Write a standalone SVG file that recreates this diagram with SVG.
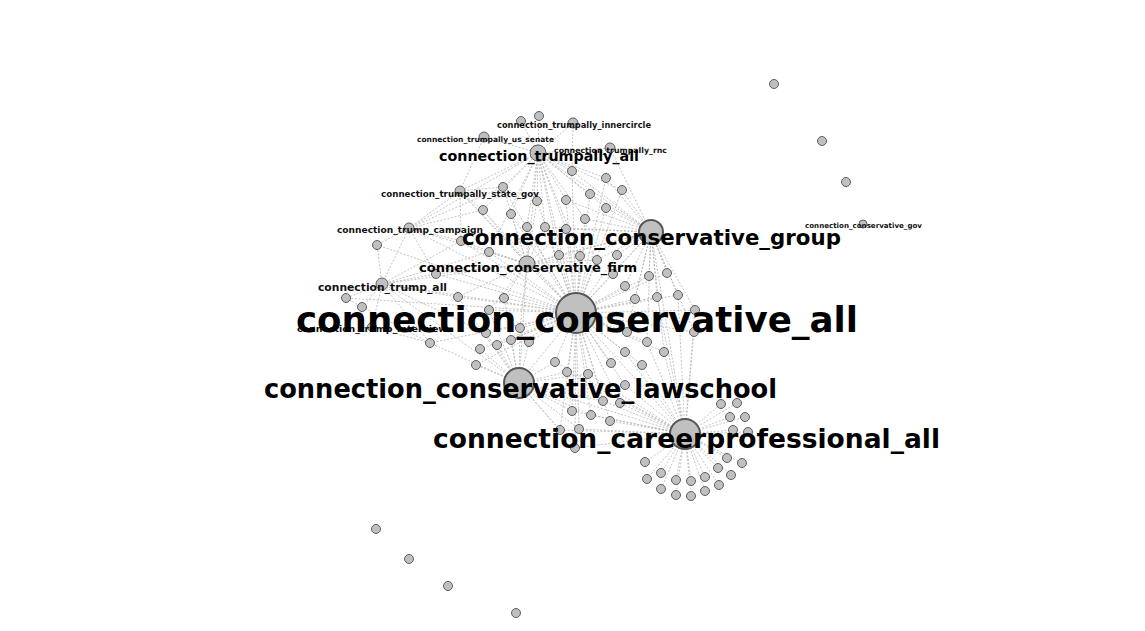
<svg xmlns="http://www.w3.org/2000/svg" width="1145" height="631" viewBox="0 0 1145 631">
<style>
.e{stroke:#b4b4b4;stroke-width:0.8;stroke-dasharray:2 1.6;fill:none}
.n{fill:#c0c0c0;stroke:#5e5e5e;stroke-width:1}
.h{fill:#c0c0c0;stroke:#555;stroke-width:2}
.t{font-family:"DejaVu Sans",sans-serif;font-weight:bold;fill:#000;text-anchor:middle}
.s{font-family:"DejaVu Sans",sans-serif;font-weight:bold;fill:#111;text-anchor:middle}
</style>
<rect width="1145" height="631" fill="#fff"/>
<g id="connectors">
<!-- conservative_all -->
<line class="e" x1="576" y1="313" x2="538" y2="153"/><line class="e" x1="576" y1="313" x2="651" y2="232"/><line class="e" x1="576" y1="313" x2="527" y2="264"/><line class="e" x1="576" y1="313" x2="519" y2="383"/><line class="e" x1="576" y1="313" x2="685" y2="434"/><line class="e" x1="576" y1="313" x2="382" y2="284"/><line class="e" x1="576" y1="313" x2="409" y2="228"/><line class="e" x1="576" y1="313" x2="460" y2="191"/>
<line class="e" x1="576" y1="313" x2="572" y2="171"/><line class="e" x1="576" y1="313" x2="606" y2="178"/><line class="e" x1="576" y1="313" x2="622" y2="190"/><line class="e" x1="576" y1="313" x2="590" y2="194"/><line class="e" x1="576" y1="313" x2="566" y2="200"/><line class="e" x1="576" y1="313" x2="537" y2="201"/><line class="e" x1="576" y1="313" x2="503" y2="187"/><line class="e" x1="576" y1="313" x2="483" y2="210"/><line class="e" x1="576" y1="313" x2="511" y2="214"/><line class="e" x1="576" y1="313" x2="606" y2="208"/><line class="e" x1="576" y1="313" x2="585" y2="219"/><line class="e" x1="576" y1="313" x2="377" y2="245"/><line class="e" x1="576" y1="313" x2="527" y2="227"/><line class="e" x1="576" y1="313" x2="545" y2="227"/><line class="e" x1="576" y1="313" x2="566" y2="229"/><line class="e" x1="576" y1="313" x2="489" y2="252"/><line class="e" x1="576" y1="313" x2="461" y2="241"/><line class="e" x1="576" y1="313" x2="559" y2="255"/><line class="e" x1="576" y1="313" x2="580" y2="256"/><line class="e" x1="576" y1="313" x2="597" y2="260"/><line class="e" x1="576" y1="313" x2="617" y2="255"/><line class="e" x1="576" y1="313" x2="649" y2="276"/><line class="e" x1="576" y1="313" x2="667" y2="273"/><line class="e" x1="576" y1="313" x2="436" y2="274"/><line class="e" x1="576" y1="313" x2="613" y2="274"/><line class="e" x1="576" y1="313" x2="625" y2="286"/><line class="e" x1="576" y1="313" x2="458" y2="297"/><line class="e" x1="576" y1="313" x2="504" y2="298"/><line class="e" x1="576" y1="313" x2="635" y2="299"/><line class="e" x1="576" y1="313" x2="657" y2="297"/><line class="e" x1="576" y1="313" x2="678" y2="295"/><line class="e" x1="576" y1="313" x2="695" y2="310"/><line class="e" x1="576" y1="313" x2="346" y2="298"/><line class="e" x1="576" y1="313" x2="489" y2="310"/><line class="e" x1="576" y1="313" x2="486" y2="333"/><line class="e" x1="576" y1="313" x2="430" y2="343"/><line class="e" x1="576" y1="313" x2="480" y2="349"/><line class="e" x1="576" y1="313" x2="497" y2="345"/><line class="e" x1="576" y1="313" x2="520" y2="328"/><line class="e" x1="576" y1="313" x2="511" y2="340"/><line class="e" x1="576" y1="313" x2="529" y2="342"/><line class="e" x1="576" y1="313" x2="476" y2="365"/><line class="e" x1="576" y1="313" x2="555" y2="362"/><line class="e" x1="576" y1="313" x2="567" y2="372"/><line class="e" x1="576" y1="313" x2="627" y2="332"/><line class="e" x1="576" y1="313" x2="647" y2="342"/><line class="e" x1="576" y1="313" x2="625" y2="352"/><line class="e" x1="576" y1="313" x2="664" y2="352"/><line class="e" x1="576" y1="313" x2="611" y2="363"/><line class="e" x1="576" y1="313" x2="642" y2="365"/><line class="e" x1="576" y1="313" x2="694" y2="332"/><line class="e" x1="576" y1="313" x2="588" y2="374"/><line class="e" x1="576" y1="313" x2="625" y2="385"/><line class="e" x1="576" y1="313" x2="603" y2="401"/><line class="e" x1="576" y1="313" x2="620" y2="403"/><line class="e" x1="576" y1="313" x2="572" y2="411"/><line class="e" x1="576" y1="313" x2="591" y2="415"/><line class="e" x1="576" y1="313" x2="610" y2="421"/><line class="e" x1="576" y1="313" x2="560" y2="430"/><line class="e" x1="576" y1="313" x2="579" y2="429"/><line class="e" x1="576" y1="313" x2="575" y2="448"/>
<!-- careerprofessional_all -->
<line class="e" x1="685" y1="434" x2="721" y2="404"/><line class="e" x1="685" y1="434" x2="737" y2="403"/><line class="e" x1="685" y1="434" x2="730" y2="417"/><line class="e" x1="685" y1="434" x2="745" y2="417"/><line class="e" x1="685" y1="434" x2="733" y2="430"/><line class="e" x1="685" y1="434" x2="748" y2="432"/><line class="e" x1="685" y1="434" x2="727" y2="458"/><line class="e" x1="685" y1="434" x2="742" y2="463"/><line class="e" x1="685" y1="434" x2="645" y2="462"/><line class="e" x1="685" y1="434" x2="661" y2="473"/><line class="e" x1="685" y1="434" x2="647" y2="479"/><line class="e" x1="685" y1="434" x2="676" y2="480"/><line class="e" x1="685" y1="434" x2="691" y2="481"/><line class="e" x1="685" y1="434" x2="705" y2="477"/><line class="e" x1="685" y1="434" x2="718" y2="468"/><line class="e" x1="685" y1="434" x2="731" y2="475"/><line class="e" x1="685" y1="434" x2="719" y2="485"/><line class="e" x1="685" y1="434" x2="705" y2="491"/><line class="e" x1="685" y1="434" x2="691" y2="496"/><line class="e" x1="685" y1="434" x2="676" y2="495"/><line class="e" x1="685" y1="434" x2="661" y2="489"/>
<line class="e" x1="685" y1="434" x2="519" y2="383"/><line class="e" x1="685" y1="434" x2="651" y2="232"/><line class="e" x1="685" y1="434" x2="695" y2="310"/><line class="e" x1="685" y1="434" x2="694" y2="332"/><line class="e" x1="685" y1="434" x2="664" y2="352"/><line class="e" x1="685" y1="434" x2="642" y2="365"/><line class="e" x1="685" y1="434" x2="625" y2="352"/><line class="e" x1="685" y1="434" x2="647" y2="342"/><line class="e" x1="685" y1="434" x2="588" y2="374"/><line class="e" x1="685" y1="434" x2="625" y2="385"/><line class="e" x1="685" y1="434" x2="603" y2="401"/><line class="e" x1="685" y1="434" x2="620" y2="403"/><line class="e" x1="685" y1="434" x2="572" y2="411"/><line class="e" x1="685" y1="434" x2="591" y2="415"/><line class="e" x1="685" y1="434" x2="610" y2="421"/><line class="e" x1="685" y1="434" x2="560" y2="430"/><line class="e" x1="685" y1="434" x2="579" y2="429"/><line class="e" x1="685" y1="434" x2="575" y2="448"/><line class="e" x1="685" y1="434" x2="555" y2="362"/><line class="e" x1="685" y1="434" x2="567" y2="372"/><line class="e" x1="685" y1="434" x2="678" y2="295"/><line class="e" x1="685" y1="434" x2="657" y2="297"/>
<!-- lawschool -->
<line class="e" x1="519" y1="383" x2="486" y2="333"/><line class="e" x1="519" y1="383" x2="480" y2="349"/><line class="e" x1="519" y1="383" x2="497" y2="345"/><line class="e" x1="519" y1="383" x2="520" y2="328"/><line class="e" x1="519" y1="383" x2="511" y2="340"/><line class="e" x1="519" y1="383" x2="529" y2="342"/><line class="e" x1="519" y1="383" x2="476" y2="365"/><line class="e" x1="519" y1="383" x2="555" y2="362"/><line class="e" x1="519" y1="383" x2="567" y2="372"/><line class="e" x1="519" y1="383" x2="588" y2="374"/><line class="e" x1="519" y1="383" x2="572" y2="411"/><line class="e" x1="519" y1="383" x2="560" y2="430"/><line class="e" x1="519" y1="383" x2="579" y2="429"/><line class="e" x1="519" y1="383" x2="575" y2="448"/><line class="e" x1="519" y1="383" x2="489" y2="310"/><line class="e" x1="519" y1="383" x2="504" y2="298"/><line class="e" x1="519" y1="383" x2="527" y2="264"/><line class="e" x1="519" y1="383" x2="430" y2="343"/><line class="e" x1="519" y1="383" x2="458" y2="297"/><line class="e" x1="519" y1="383" x2="382" y2="284"/><line class="e" x1="519" y1="383" x2="603" y2="401"/><line class="e" x1="519" y1="383" x2="591" y2="415"/>
<!-- trumpally_all -->
<line class="e" x1="538" y1="153" x2="521" y2="121"/><line class="e" x1="538" y1="153" x2="539" y2="116"/><line class="e" x1="538" y1="153" x2="573" y2="123"/><line class="e" x1="538" y1="153" x2="484" y2="137"/><line class="e" x1="538" y1="153" x2="610" y2="148"/><line class="e" x1="538" y1="153" x2="460" y2="191"/><line class="e" x1="538" y1="153" x2="572" y2="171"/><line class="e" x1="538" y1="153" x2="606" y2="178"/><line class="e" x1="538" y1="153" x2="622" y2="190"/><line class="e" x1="538" y1="153" x2="590" y2="194"/><line class="e" x1="538" y1="153" x2="566" y2="200"/><line class="e" x1="538" y1="153" x2="537" y2="201"/><line class="e" x1="538" y1="153" x2="503" y2="187"/><line class="e" x1="538" y1="153" x2="483" y2="210"/><line class="e" x1="538" y1="153" x2="511" y2="214"/><line class="e" x1="538" y1="153" x2="606" y2="208"/><line class="e" x1="538" y1="153" x2="585" y2="219"/><line class="e" x1="538" y1="153" x2="527" y2="227"/><line class="e" x1="538" y1="153" x2="545" y2="227"/><line class="e" x1="538" y1="153" x2="566" y2="229"/><line class="e" x1="538" y1="153" x2="651" y2="232"/><line class="e" x1="538" y1="153" x2="527" y2="264"/><line class="e" x1="538" y1="153" x2="559" y2="255"/><line class="e" x1="538" y1="153" x2="580" y2="256"/><line class="e" x1="538" y1="153" x2="409" y2="228"/><line class="e" x1="538" y1="153" x2="489" y2="252"/><line class="e" x1="573" y1="123" x2="572" y2="171"/><line class="e" x1="610" y1="148" x2="651" y2="232"/>
<!-- conservative_group -->
<line class="e" x1="651" y1="232" x2="572" y2="171"/><line class="e" x1="651" y1="232" x2="606" y2="178"/><line class="e" x1="651" y1="232" x2="622" y2="190"/><line class="e" x1="651" y1="232" x2="590" y2="194"/><line class="e" x1="651" y1="232" x2="566" y2="200"/><line class="e" x1="651" y1="232" x2="606" y2="208"/><line class="e" x1="651" y1="232" x2="585" y2="219"/><line class="e" x1="651" y1="232" x2="545" y2="227"/><line class="e" x1="651" y1="232" x2="566" y2="229"/><line class="e" x1="651" y1="232" x2="559" y2="255"/><line class="e" x1="651" y1="232" x2="580" y2="256"/><line class="e" x1="651" y1="232" x2="597" y2="260"/><line class="e" x1="651" y1="232" x2="617" y2="255"/><line class="e" x1="651" y1="232" x2="649" y2="276"/><line class="e" x1="651" y1="232" x2="667" y2="273"/><line class="e" x1="651" y1="232" x2="613" y2="274"/><line class="e" x1="651" y1="232" x2="625" y2="286"/><line class="e" x1="651" y1="232" x2="635" y2="299"/><line class="e" x1="651" y1="232" x2="657" y2="297"/><line class="e" x1="651" y1="232" x2="678" y2="295"/><line class="e" x1="651" y1="232" x2="695" y2="310"/><line class="e" x1="651" y1="232" x2="627" y2="332"/><line class="e" x1="651" y1="232" x2="647" y2="342"/><line class="e" x1="651" y1="232" x2="664" y2="352"/><line class="e" x1="651" y1="232" x2="694" y2="332"/><line class="e" x1="651" y1="232" x2="527" y2="264"/>
<!-- conservative_firm -->
<line class="e" x1="527" y1="264" x2="483" y2="210"/><line class="e" x1="527" y1="264" x2="511" y2="214"/><line class="e" x1="527" y1="264" x2="527" y2="227"/><line class="e" x1="527" y1="264" x2="545" y2="227"/><line class="e" x1="527" y1="264" x2="566" y2="229"/><line class="e" x1="527" y1="264" x2="489" y2="252"/><line class="e" x1="527" y1="264" x2="461" y2="241"/><line class="e" x1="527" y1="264" x2="559" y2="255"/><line class="e" x1="527" y1="264" x2="580" y2="256"/><line class="e" x1="527" y1="264" x2="597" y2="260"/><line class="e" x1="527" y1="264" x2="436" y2="274"/><line class="e" x1="527" y1="264" x2="458" y2="297"/><line class="e" x1="527" y1="264" x2="504" y2="298"/><line class="e" x1="527" y1="264" x2="489" y2="310"/><line class="e" x1="527" y1="264" x2="520" y2="328"/><line class="e" x1="527" y1="264" x2="382" y2="284"/><line class="e" x1="527" y1="264" x2="409" y2="228"/><line class="e" x1="527" y1="264" x2="460" y2="191"/><line class="e" x1="527" y1="264" x2="537" y2="201"/><line class="e" x1="527" y1="264" x2="503" y2="187"/>
<!-- trump -->
<line class="e" x1="382" y1="284" x2="346" y2="298"/><line class="e" x1="382" y1="284" x2="362" y2="307"/><line class="e" x1="382" y1="284" x2="377" y2="245"/><line class="e" x1="382" y1="284" x2="409" y2="228"/><line class="e" x1="382" y1="284" x2="436" y2="274"/><line class="e" x1="382" y1="284" x2="458" y2="297"/><line class="e" x1="382" y1="284" x2="430" y2="343"/><line class="e" x1="382" y1="284" x2="486" y2="333"/><line class="e" x1="382" y1="284" x2="372" y2="327"/><line class="e" x1="382" y1="284" x2="461" y2="241"/><line class="e" x1="382" y1="284" x2="489" y2="252"/><line class="e" x1="409" y1="228" x2="377" y2="245"/><line class="e" x1="409" y1="228" x2="461" y2="241"/><line class="e" x1="409" y1="228" x2="460" y2="191"/><line class="e" x1="409" y1="228" x2="483" y2="210"/><line class="e" x1="409" y1="228" x2="436" y2="274"/><line class="e" x1="409" y1="228" x2="503" y2="187"/><line class="e" x1="460" y1="191" x2="483" y2="210"/><line class="e" x1="460" y1="191" x2="503" y2="187"/><line class="e" x1="460" y1="191" x2="461" y2="241"/><line class="e" x1="460" y1="191" x2="484" y2="137"/><line class="e" x1="346" y1="298" x2="362" y2="307"/><line class="e" x1="372" y1="327" x2="430" y2="343"/><line class="e" x1="362" y1="307" x2="430" y2="343"/>
</g>
<g id="nodes">
<g id="n1"><circle class="n" cx="521" cy="121" r="4.5"/></g>
<g id="n2"><circle class="n" cx="539" cy="116" r="4.5"/></g>
<g id="n3"><circle class="n" cx="572" cy="171" r="4.5"/></g>
<g id="n4"><circle class="n" cx="606" cy="178" r="4.5"/></g>
<g id="n5"><circle class="n" cx="622" cy="190" r="4.5"/></g>
<g id="n6"><circle class="n" cx="590" cy="194" r="4.5"/></g>
<g id="n7"><circle class="n" cx="566" cy="200" r="4.5"/></g>
<g id="n8"><circle class="n" cx="537" cy="201" r="4.5"/></g>
<g id="n9"><circle class="n" cx="503" cy="187" r="4.5"/></g>
<g id="n10"><circle class="n" cx="483" cy="210" r="4.5"/></g>
<g id="n11"><circle class="n" cx="511" cy="214" r="4.5"/></g>
<g id="n12"><circle class="n" cx="606" cy="208" r="4.5"/></g>
<g id="n13"><circle class="n" cx="585" cy="219" r="4.5"/></g>
<g id="n14"><circle class="n" cx="377" cy="245" r="4.5"/></g>
<g id="n15"><circle class="n" cx="527" cy="227" r="4.5"/></g>
<g id="n16"><circle class="n" cx="545" cy="227" r="4.5"/></g>
<g id="n17"><circle class="n" cx="566" cy="229" r="4.5"/></g>
<g id="n18"><circle class="n" cx="489" cy="252" r="4.5"/></g>
<g id="n19"><circle class="n" cx="461" cy="241" r="4.5"/></g>
<g id="n20"><circle class="n" cx="559" cy="255" r="4.5"/></g>
<g id="n21"><circle class="n" cx="580" cy="256" r="4.5"/></g>
<g id="n22"><circle class="n" cx="597" cy="260" r="4.5"/></g>
<g id="n23"><circle class="n" cx="617" cy="255" r="4.5"/></g>
<g id="n24"><circle class="n" cx="649" cy="276" r="4.5"/></g>
<g id="n25"><circle class="n" cx="667" cy="273" r="4.5"/></g>
<g id="n26"><circle class="n" cx="436" cy="274" r="4.5"/></g>
<g id="n27"><circle class="n" cx="613" cy="274" r="4.5"/></g>
<g id="n28"><circle class="n" cx="625" cy="286" r="4.5"/></g>
<g id="n29"><circle class="n" cx="458" cy="297" r="4.5"/></g>
<g id="n30"><circle class="n" cx="504" cy="298" r="4.5"/></g>
<g id="n31"><circle class="n" cx="635" cy="299" r="4.5"/></g>
<g id="n32"><circle class="n" cx="657" cy="297" r="4.5"/></g>
<g id="n33"><circle class="n" cx="678" cy="295" r="4.5"/></g>
<g id="n34"><circle class="n" cx="695" cy="310" r="4.5"/></g>
<g id="n35"><circle class="n" cx="346" cy="298" r="4.5"/></g>
<g id="n36"><circle class="n" cx="362" cy="307" r="4.5"/></g>
<g id="n37"><circle class="n" cx="489" cy="310" r="4.5"/></g>
<g id="n38"><circle class="n" cx="486" cy="333" r="4.5"/></g>
<g id="n39"><circle class="n" cx="430" cy="343" r="4.5"/></g>
<g id="n40"><circle class="n" cx="480" cy="349" r="4.5"/></g>
<g id="n41"><circle class="n" cx="497" cy="345" r="4.5"/></g>
<g id="n42"><circle class="n" cx="520" cy="328" r="4.5"/></g>
<g id="n43"><circle class="n" cx="511" cy="340" r="4.5"/></g>
<g id="n44"><circle class="n" cx="529" cy="342" r="4.5"/></g>
<g id="n45"><circle class="n" cx="476" cy="365" r="4.5"/></g>
<g id="n46"><circle class="n" cx="555" cy="362" r="4.5"/></g>
<g id="n47"><circle class="n" cx="567" cy="372" r="4.5"/></g>
<g id="n48"><circle class="n" cx="627" cy="332" r="4.5"/></g>
<g id="n49"><circle class="n" cx="647" cy="342" r="4.5"/></g>
<g id="n50"><circle class="n" cx="625" cy="352" r="4.5"/></g>
<g id="n51"><circle class="n" cx="664" cy="352" r="4.5"/></g>
<g id="n52"><circle class="n" cx="611" cy="363" r="4.5"/></g>
<g id="n53"><circle class="n" cx="642" cy="365" r="4.5"/></g>
<g id="n54"><circle class="n" cx="694" cy="332" r="4.5"/></g>
<g id="n55"><circle class="n" cx="588" cy="374" r="4.5"/></g>
<g id="n56"><circle class="n" cx="625" cy="385" r="4.5"/></g>
<g id="n57"><circle class="n" cx="603" cy="401" r="4.5"/></g>
<g id="n58"><circle class="n" cx="620" cy="403" r="4.5"/></g>
<g id="n59"><circle class="n" cx="572" cy="411" r="4.5"/></g>
<g id="n60"><circle class="n" cx="591" cy="415" r="4.5"/></g>
<g id="n61"><circle class="n" cx="610" cy="421" r="4.5"/></g>
<g id="n62"><circle class="n" cx="560" cy="430" r="4.5"/></g>
<g id="n63"><circle class="n" cx="579" cy="429" r="4.5"/></g>
<g id="n64"><circle class="n" cx="575" cy="448" r="4.5"/></g>
<g id="n65"><circle class="n" cx="721" cy="404" r="4.5"/></g>
<g id="n66"><circle class="n" cx="737" cy="403" r="4.5"/></g>
<g id="n67"><circle class="n" cx="730" cy="417" r="4.5"/></g>
<g id="n68"><circle class="n" cx="745" cy="417" r="4.5"/></g>
<g id="n69"><circle class="n" cx="733" cy="430" r="4.5"/></g>
<g id="n70"><circle class="n" cx="748" cy="432" r="4.5"/></g>
<g id="n71"><circle class="n" cx="727" cy="458" r="4.5"/></g>
<g id="n72"><circle class="n" cx="742" cy="463" r="4.5"/></g>
<g id="n73"><circle class="n" cx="645" cy="462" r="4.5"/></g>
<g id="n74"><circle class="n" cx="661" cy="473" r="4.5"/></g>
<g id="n75"><circle class="n" cx="647" cy="479" r="4.5"/></g>
<g id="n76"><circle class="n" cx="676" cy="480" r="4.5"/></g>
<g id="n77"><circle class="n" cx="691" cy="481" r="4.5"/></g>
<g id="n78"><circle class="n" cx="705" cy="477" r="4.5"/></g>
<g id="n79"><circle class="n" cx="718" cy="468" r="4.5"/></g>
<g id="n80"><circle class="n" cx="731" cy="475" r="4.5"/></g>
<g id="n81"><circle class="n" cx="719" cy="485" r="4.5"/></g>
<g id="n82"><circle class="n" cx="705" cy="491" r="4.5"/></g>
<g id="n83"><circle class="n" cx="691" cy="496" r="4.5"/></g>
<g id="n84"><circle class="n" cx="676" cy="495" r="4.5"/></g>
<g id="n85"><circle class="n" cx="661" cy="489" r="4.5"/></g>
<g id="n86"><circle class="n" cx="774" cy="84" r="4.5"/></g>
<g id="n87"><circle class="n" cx="822" cy="141" r="4.5"/></g>
<g id="n88"><circle class="n" cx="846" cy="182" r="4.5"/></g>
<g id="n89"><circle class="n" cx="376" cy="529" r="4.5"/></g>
<g id="n90"><circle class="n" cx="409" cy="559" r="4.5"/></g>
<g id="n91"><circle class="n" cx="448" cy="586" r="4.5"/></g>
<g id="n92"><circle class="n" cx="516" cy="613" r="4.5"/></g>
<g id="connection_trump_interview"><circle class="n" cx="372" cy="327" r="4.5"/><text class="s" x="372" y="332" font-size="9.4" textLength="150" lengthAdjust="spacingAndGlyphs">connection_trump_interview</text></g>
<g id="connection_trumpally_innercircle"><circle class="n" cx="573" cy="123" r="5"/><text class="s" x="574" y="128" font-size="8.3" textLength="154" lengthAdjust="spacingAndGlyphs">connection_trumpally_innercircle</text></g>
<g id="connection_trumpally_us_senate"><circle class="n" cx="484" cy="137" r="5"/><text class="s" x="485.5" y="142" font-size="7.5" textLength="137" lengthAdjust="spacingAndGlyphs">connection_trumpally_us_senate</text></g>
<g id="connection_trumpally_rnc"><circle class="n" cx="610" cy="148" r="5"/><text class="s" x="610.5" y="153" font-size="7.8" textLength="113" lengthAdjust="spacingAndGlyphs">connection_trumpally_rnc</text></g>
<g id="connection_trumpally_state_gov"><circle class="n" cx="460" cy="191" r="5"/><text class="s" x="460" y="197" font-size="8.7" textLength="158" lengthAdjust="spacingAndGlyphs">connection_trumpally_state_gov</text></g>
<g id="connection_trump_campaign"><circle class="n" cx="409" cy="228" r="5"/><text class="s" x="410" y="233" font-size="9.1" textLength="146" lengthAdjust="spacingAndGlyphs">connection_trump_campaign</text></g>
<g id="connection_trump_all"><circle class="n" cx="382" cy="284" r="6"/><text class="s" x="382.5" y="290.5" font-size="10.7" textLength="129" lengthAdjust="spacingAndGlyphs">connection_trump_all</text></g>
<g id="connection_conservative_gov"><circle class="n" cx="863" cy="224" r="4"/><text class="s" x="863.5" y="228" font-size="7.1" textLength="117" lengthAdjust="spacingAndGlyphs">connection_conservative_gov</text></g>
<g id="connection_trumpally_all"><circle class="n" cx="538" cy="153" r="8"/><text class="t" x="539" y="161" font-size="14.3" textLength="200" lengthAdjust="spacingAndGlyphs">connection_trumpally_all</text></g>
<g id="connection_conservative_firm"><circle class="n" cx="527" cy="264" r="8"/><text class="t" x="528" y="271.5" font-size="13" textLength="218" lengthAdjust="spacingAndGlyphs">connection_conservative_firm</text></g>
<g id="connection_conservative_group"><circle class="h" cx="651" cy="232" r="12"/><text class="t" x="651.5" y="244.5" font-size="21.3" textLength="379" lengthAdjust="spacingAndGlyphs">connection_conservative_group</text></g>
<g id="connection_conservative_lawschool"><circle class="h" cx="519" cy="383" r="15"/><text class="t" x="520.5" y="398" font-size="25.7" textLength="513" lengthAdjust="spacingAndGlyphs">connection_conservative_lawschool</text></g>
<g id="connection_careerprofessional_all"><circle class="h" cx="685" cy="434" r="15"/><text class="t" x="686.5" y="447.5" font-size="26.5" textLength="507" lengthAdjust="spacingAndGlyphs">connection_careerprofessional_all</text></g>
<g id="connection_conservative_all"><circle class="h" cx="576" cy="313" r="20"/><text class="t" x="577" y="332" font-size="35.5" textLength="562" lengthAdjust="spacingAndGlyphs">connection_conservative_all</text></g>
</g>
</svg>
